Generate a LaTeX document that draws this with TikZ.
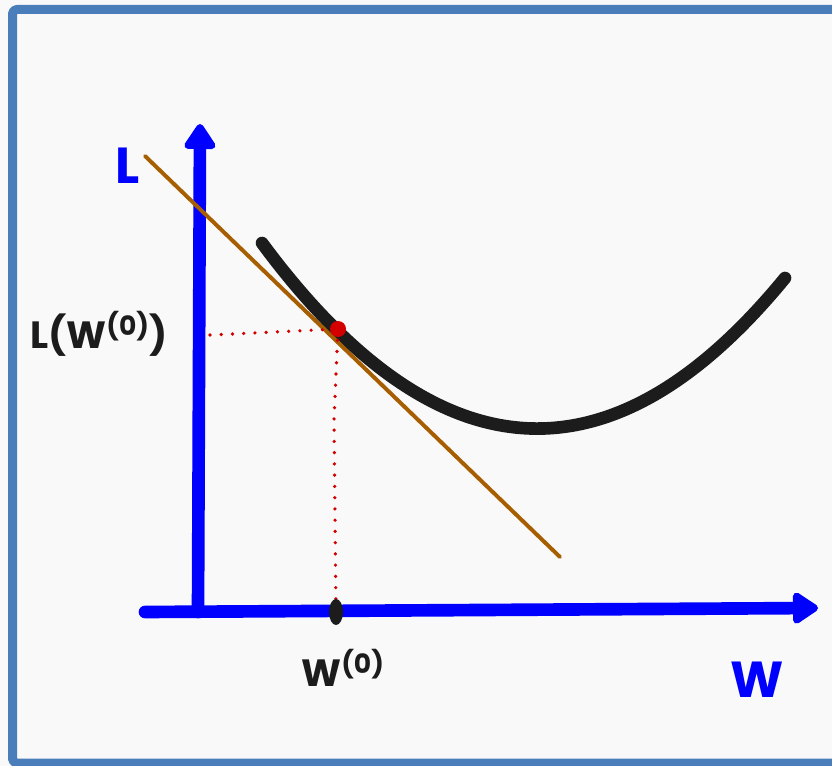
\documentclass[tikz,border=0pt]{standalone}
\usepackage{fontspec}
\setsansfont{Poppins}
\usepackage{tikz}
\usetikzlibrary{arrows.meta}
\definecolor{gdFrame}{HTML}{4A7EBB}
\definecolor{gdPaper}{HTML}{F9F9F9}
\definecolor{gdAxis}{HTML}{0000FF}
\definecolor{gdInk}{HTML}{1C1C1C}
\definecolor{gdTangent}{HTML}{A65E00}
\definecolor{gdGuide}{HTML}{D40000}
\tikzset{
  gd diagram/.style={x=0.025cm, y=-0.025cm, line cap=round, line join=round},
  gd axis/.style={draw=gdAxis, line width=9pt,
    -{Triangle[round, length=20pt, width=25pt]}},
  gd curve/.style={draw=gdInk, line width=9pt},
  gd tangent/.style={draw=gdTangent, line width=2.8pt},
  gd guide/.style={draw=gdGuide, line width=2.6pt, dash pattern=on 0pt off 8pt},
  gd label/.style={font=\sffamily\bfseries\fontsize{27}{27}\selectfont, inner sep=0pt},
  gd axis label/.style={gd label, font=\sffamily\bfseries\fontsize{36}{36}\selectfont, text=gdAxis}
}

\begin{document}
\begin{tikzpicture}[gd diagram]
\useasboundingbox (0,0) rectangle (832,766);
\fill[gdPaper] (0,0) rectangle (832,766);
\draw[draw=gdFrame, line width=6.4pt, rounded corners=3pt] (12.5,9.5) rectangle (850,763);
% axes
\coordinate (yfoot) at (198,612);
\coordinate (ytip) at (200,124);
\coordinate (xfoot) at (145,612);
\coordinate (xtip) at (818,608);
\draw[gd axis] (yfoot) -- (ytip);
\draw[gd axis] (xfoot) -- (xtip);
\node[gd axis label] (lossaxis) at (128,166) {L};
\node[gd axis label] (weightaxis) at (757,680) {W};
% loss curve and tangent at the start point
\coordinate (curvestart) at (262,243);
\coordinate (curveend) at (785,278);
\draw[gd curve] (curvestart) .. controls (436,478) and (611,490) .. (curveend);
\coordinate (tanstart) at (145,156);
\coordinate (tanend) at (560,557);
\draw[gd tangent] (tanstart) -- (tanend);
% start point w0
\coordinate (startpt) at (338,329);
\coordinate (lossmark) at (210,335);
\coordinate (wmark) at (336,612);
\draw[gd guide] (lossmark) -- (startpt);
\draw[gd guide] (startpt) -- (334,420) -- (wmark);
\fill[gdGuide] (startpt) circle (8);
\fill[gdInk] (wmark) ellipse (7 and 13);
\node[gd label, text=gdInk] (lossval) at (99,334) {L(W\textsuperscript{(0)})};
\node[gd label, text=gdInk] (wval) at (343,668) {W\textsuperscript{(0)}};
\end{tikzpicture}
\end{document}
